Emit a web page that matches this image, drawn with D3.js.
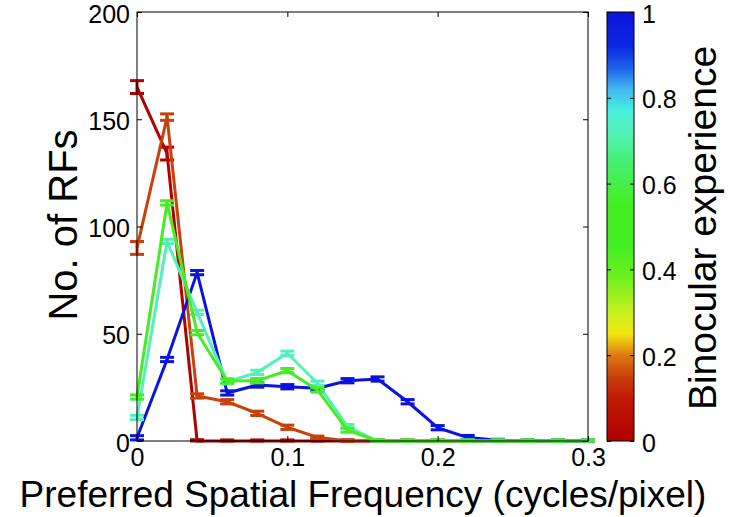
<!DOCTYPE html>
<html><head><meta charset="utf-8">
<script src="https://cdn.jsdelivr.net/npm/d3@7"></script>
<style>body{margin:0;background:#fff}text{font-family:"Liberation Sans",Arial,sans-serif}</style>
</head><body><svg id="c" width="729" height="517"></svg>
<script>
// ---- data ----
const freqs = [0,0.02,0.04,0.06,0.08,0.10,0.12,0.14,0.16,0.18,0.20,0.22,0.24,0.26,0.28,0.30];
const binoc = [0, 0.15, 0.5, 0.72, 1.0];
const countsB0   = [165,134,0,0,0,0,0,0,0,0,0,0,0,0,0,0];
const countsB015 = [90,151,21,18.3,12.9,6.4,1.7,0,0,0,0,0,0,0,0,0];
const countsB05  = [20.5,111,50.5,28,28.1,32.8,23.8,5.1,0,0,0,0,0,0,0,0];
const countsB072 = [11,93,60,27.6,32,40.9,26.9,6.7,0,0,0,0,0,0,0,0];
const countsB1   = [1.5,38,78.5,22.4,26.1,25.3,24.6,28.1,28.9,18.3,6.2,1.6,0.3,0,0,0];
const errB0   = [3,3,0.6,0.5,0.5,0.5,0.5,0.5,0.5,0.5,0.5,0.5,0.5,0.5,0.5,0.5];
const errB015 = [3,1.5,1,1,1,1,0.6,0.5,0.5,0.5,0.5,0.5,0.5,0.5,0.5,0.5];
const errB05  = [1,1,1,1,1,1,1,1,0.5,0.5,0.5,0.5,0.5,0.5,0.5,0.5];
const errB072 = [1,1,1,1,1,1,1,1,0.5,0.5,0.5,0.5,0.5,0.5,0.5,0.5];
const errB1   = [1,1,1,1,1,1,1,1,1,1,1,1,0.5,0.5,0.5,0.5];
const xTicks = [0,0.1,0.2,0.3];
const xTickLabels = ["0","0.1","0.2","0.3"];
const yTicks = [0,50,100,150,200];
const cbTicks = [0,0.2,0.4,0.6,0.8,1];
const cbTickLabels = ["0","0.2","0.4","0.6","0.8","1"];
const series = [
  {b: binoc[0], v: countsB0, e: errB0},
  {b: binoc[1], v: countsB015, e: errB015},
  {b: binoc[4], v: countsB1, e: errB1},
  {b: binoc[3], v: countsB072, e: errB072},
  {b: binoc[2], v: countsB05, e: errB05}
];
// colormap (custom jet-like)
const cmapStops = [
  [0.00,"#b00000"],[0.10,"#c01a06"],[0.15,"#c8400a"],[0.20,"#dc7a10"],
  [0.25,"#f2e512"],[0.30,"#c8f020"],[0.38,"#70f020"],[0.45,"#44ee22"],
  [0.55,"#44ee22"],[0.65,"#48f070"],[0.72,"#55f0b8"],[0.77,"#48f0dc"],
  [0.82,"#40b8f0"],[0.87,"#2060ec"],[0.92,"#0a28e0"],[1.00,"#0a14dc"]
];
const cmap = d3.scaleLinear().domain(cmapStops.map(d=>d[0])).range(cmapStops.map(d=>d[1])).interpolate(d3.interpolateRgb);

// ---- layout ----
const L=137, R=588, T=12, B=441;
const svg = d3.select("#c");
const x = d3.scaleLinear().domain([0,0.3]).range([L,R]);
const y = d3.scaleLinear().domain([0,200]).range([B,T]);

const g = svg.append("g");
const line = d3.line().x((d,i)=>x(freqs[i])).y(d=>y(d));
series.forEach(s=>{
  const col = cmap(s.b);
  g.append("path").datum(s.v).attr("d",line).attr("fill","none")
    .attr("stroke",col).attr("stroke-width",3).attr("stroke-linejoin","round");
  s.v.forEach((v,i)=>{
    const cx = x(freqs[i]);
    const lo = y(Math.max(0,v-s.e[i])), hi = y(v+s.e[i]);
    g.append("line").attr("x1",cx).attr("x2",cx).attr("y1",lo).attr("y2",hi)
      .attr("stroke",col).attr("stroke-width",3);
    [lo,hi].forEach(yy=>g.append("line").attr("x1",cx-7).attr("x2",cx+7)
      .attr("y1",yy).attr("y2",yy).attr("stroke",col).attr("stroke-width",3));
  });
});

// box + ticks
svg.append("rect").attr("x",L).attr("y",T).attr("width",R-L).attr("height",B-T)
  .attr("fill","none").attr("stroke","#000").attr("stroke-width",1);
const ax = svg.append("g").attr("transform",`translate(0,${B})`)
  .call(d3.axisBottom(x).tickValues(xTicks).tickFormat((d,i)=>xTickLabels[i]).tickSize(-5).tickPadding(7));
const axT = svg.append("g").attr("transform",`translate(0,${T})`)
  .call(d3.axisTop(x).tickValues(xTicks).tickFormat("").tickSize(-5));
const ay = svg.append("g").attr("transform",`translate(${L},0)`)
  .call(d3.axisLeft(y).tickValues(yTicks).tickSize(-5).tickPadding(7));
const ayR = svg.append("g").attr("transform",`translate(${R},0)`)
  .call(d3.axisRight(y).tickValues(yTicks).tickFormat("").tickSize(-5));
[ax,axT,ay,ayR].forEach(a=>{a.select(".domain").remove();a.selectAll("text").attr("font-size",25).attr("fill","#000");});
ay.selectAll("text").attr("dy","0.4em");
ax.selectAll("text").attr("dy","0.72em");

// labels
svg.append("text").attr("x",363).attr("y",507).attr("text-anchor","middle")
  .attr("font-size",37).text("Preferred Spatial Frequency (cycles/pixel)");
svg.append("text").attr("transform","translate(77,225) rotate(-90)").attr("text-anchor","middle")
  .attr("font-size",40).text("No. of RFs");

// colorbar
const cbL=607, cbR=634;
const cy = d3.scaleLinear().domain([0,1]).range([B,T]);
const grad = svg.append("defs").append("linearGradient").attr("id","cbg")
  .attr("x1",0).attr("y1",1).attr("x2",0).attr("y2",0);
cmapStops.forEach(st=>grad.append("stop").attr("offset",st[0]).attr("stop-color",st[1]));
svg.append("rect").attr("x",cbL).attr("y",T).attr("width",cbR-cbL).attr("height",B-T)
  .attr("fill","url(#cbg)").attr("stroke","#000").attr("stroke-width",1);
const cba = svg.append("g").attr("transform",`translate(${cbR},0)`)
  .call(d3.axisRight(cy).tickValues(cbTicks).tickFormat((d,i)=>cbTickLabels[i]).tickSize(-4).tickPadding(8));
const cbaL = svg.append("g").attr("transform",`translate(${cbL},0)`)
  .call(d3.axisLeft(cy).tickValues(cbTicks).tickFormat("").tickSize(-4));
[cba,cbaL].forEach(a=>{a.select(".domain").remove();a.selectAll("text").attr("font-size",25).attr("fill","#000").attr("dy","0.4em");});
svg.append("text").attr("transform","translate(716,228) rotate(-90)").attr("text-anchor","middle")
  .attr("font-size",39).text("Binocular experience");
</script></body></html>
